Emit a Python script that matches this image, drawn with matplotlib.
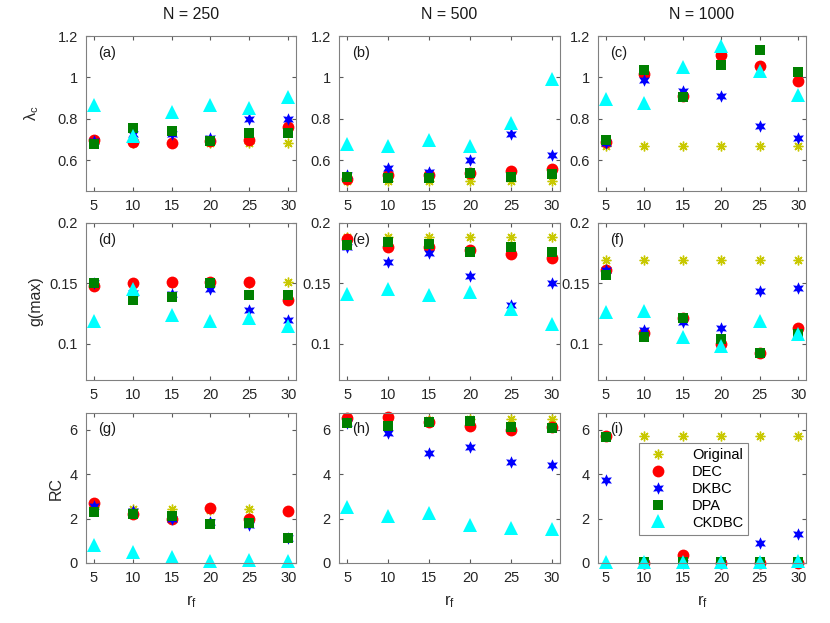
import matplotlib
matplotlib.use('Agg')
import matplotlib.pyplot as plt
from matplotlib.ticker import FuncFormatter

plt.rcParams['font.family'] = ['Liberation Sans', 'DejaVu Sans']
plt.rcParams['mathtext.default'] = 'regular'

rf = [5, 10, 15, 20, 25, 30]
methods = ['Original', 'DEC', 'DKBC', 'DPA', 'CKDBC']
sizes = ['N = 250', 'N = 500', 'N = 1000']

# rows: Original, DEC, DKBC, DPA, CKDBC
lam_250 = [[0.68, 0.68, 0.68, 0.68, 0.68, 0.68],
           [0.699, 0.688, 0.683, 0.694, 0.699, 0.761],
           [0.69, 0.725, 0.725, 0.706, 0.80, 0.80],
           [0.678, 0.757, 0.738, 0.69, 0.73, 0.733],
           [0.866, 0.714, 0.832, 0.866, 0.85, 0.905]]
lam_500 = [[0.50, 0.50, 0.50, 0.50, 0.50, 0.50],
           [0.507, 0.528, 0.528, 0.535, 0.548, 0.556],
           [0.528, 0.559, 0.54, 0.60, 0.727, 0.626],
           [0.52, 0.513, 0.515, 0.535, 0.52, 0.53],
           [0.678, 0.667, 0.698, 0.67, 0.78, 0.993]]
lam_1000 = [[0.667, 0.667, 0.667, 0.667, 0.667, 0.667],
            [0.689, 1.017, 0.911, 1.109, 1.054, 0.983],
            [0.68, 0.987, 0.933, 0.911, 0.766, 0.706],
            [0.697, 1.034, 0.904, 1.059, 1.131, 1.025],
            [0.894, 0.874, 1.05, 1.151, 1.03, 0.916]]

g_250 = [[0.15, 0.15, 0.15, 0.15, 0.15, 0.151],
         [0.148, 0.15, 0.151, 0.151, 0.151, 0.136],
         [0.15, 0.142, 0.141, 0.145, 0.128, 0.12],
         [0.15, 0.136, 0.139, 0.15, 0.14, 0.14],
         [0.119, 0.145, 0.124, 0.119, 0.121, 0.115]]
g_500 = [[0.188, 0.188, 0.188, 0.188, 0.188, 0.188],
         [0.187, 0.18, 0.18, 0.178, 0.174, 0.171],
         [0.18, 0.168, 0.175, 0.156, 0.132, 0.15],
         [0.182, 0.184, 0.183, 0.176, 0.18, 0.176],
         [0.141, 0.145, 0.14, 0.143, 0.129, 0.116]]
g_1000 = [[0.169, 0.169, 0.169, 0.169, 0.169, 0.169],
          [0.161, 0.109, 0.121, 0.10, 0.092, 0.113],
          [0.161, 0.111, 0.118, 0.113, 0.144, 0.146],
          [0.157, 0.106, 0.121, 0.104, 0.092, 0.108],
          [0.126, 0.127, 0.106, 0.098, 0.119, 0.108]]

rc_250 = [[2.5, 2.41, 2.41, 2.4, 2.41, 2.35],
          [2.68, 2.22, 1.96, 2.46, 2.0, 2.35],
          [2.57, 2.35, 2.0, 1.84, 1.72, 1.13],
          [2.28, 2.2, 2.13, 1.76, 1.81, 1.13],
          [0.81, 0.49, 0.25, 0.07, 0.12, 0.07]]
rc_500 = [[6.5, 6.5, 6.43, 6.47, 6.47, 6.47],
          [6.54, 6.57, 6.35, 6.15, 5.98, 6.13],
          [6.28, 5.85, 4.93, 5.22, 4.56, 4.41],
          [6.32, 6.18, 6.35, 6.37, 6.1, 6.06],
          [2.54, 2.13, 2.25, 1.72, 1.57, 1.54]]
rc_1000 = [[5.72, 5.7, 5.7, 5.7, 5.7, 5.7],
           [5.72, 0.02, 0.37, 0.02, 0.02, 0.02],
           [3.73, 0.0, 0.0, 0.0, 0.89, 1.29],
           [5.68, 0.03, 0.03, 0.03, 0.03, 0.03],
           [0.03, 0.03, 0.03, 0.03, 0.05, 0.1]]

panels = [[lam_250, lam_500, lam_1000],
          [g_250, g_500, g_1000],
          [rc_250, rc_500, rc_1000]]
row_labels = [r'$\lambda_c$', 'g(max)', 'RC']
row_pads = [12, 4, 4]
row_ylim = [(0.45, 1.2), (0.07, 0.2), (0, 6.75)]
row_ticks = [[0.6, 0.8, 1, 1.2], [0.1, 0.15, 0.2], [0, 2, 4, 6]]
letters = 'abcdefghi'

styles = [dict(marker=(8, 2, 0), color='#c8c800', ms=7, mew=1.0),
          dict(marker='o', color='red', ms=8.5, mew=0),
          dict(marker=(6, 1, 0), color='blue', ms=9, mew=0),
          dict(marker='s', color='green', ms=6.5, mew=0),
          dict(marker='^', color='cyan', ms=9.5, mew=0)]

W, H = 830, 623
col_x = [(86, 296), (339, 560), (598, 806)]
row_y = [(36, 191), (223, 380), (413, 563)]

fig = plt.figure(figsize=(8.3, 6.23), dpi=100)

for r in range(3):
    for c in range(3):
        x0, x1 = col_x[c]
        y0, y1 = row_y[r]
        ax = fig.add_axes([x0 / W, 1 - y1 / H, (x1 - x0) / W, (y1 - y0) / H])
        data = panels[r][c]
        for k in range(5):
            ax.plot(rf, data[k], linestyle='none', label=methods[k],
                    clip_on=False, **styles[k])
        ax.set_xlim(4, 31)
        ax.set_ylim(*row_ylim[r])
        ax.set_xticks(rf)
        ax.set_yticks(row_ticks[r])
        ax.yaxis.set_major_formatter(FuncFormatter(lambda v, p: '%g' % v))
        ax.tick_params(direction='in', top=True, right=True, length=3,
                       labelsize=10.5, colors='0.35', labelcolor='0.15', pad=6)
        for s in ax.spines.values():
            s.set_color('0.5')
            s.set_linewidth(0.8)
        ax.text(0.06, 0.89, '(%s)' % letters[r * 3 + c], transform=ax.transAxes,
                fontsize=10.5, color='0.1', va='center', ha='left')
        if c == 0:
            ax.set_ylabel(row_labels[r], fontsize=11.5, color='0.15',
                          labelpad=row_pads[r])
        if r == 0:
            ax.set_title(sizes[c], fontsize=11.5, color='0.1', pad=12)
        if r == 2:
            ax.set_xlabel('$r_f$', fontsize=12, color='0.15', labelpad=6)
        if r == 2 and c == 2:
            leg = ax.legend(loc='upper left', bbox_to_anchor=(0.16, 0.85),
                            fontsize=10.5, frameon=True, fancybox=False,
                            edgecolor='0.4', handletextpad=1.3,
                            borderpad=0.35, labelspacing=0.2, numpoints=1)
            leg.get_frame().set_linewidth(0.8)

fig.savefig('out.png', dpi=100)
